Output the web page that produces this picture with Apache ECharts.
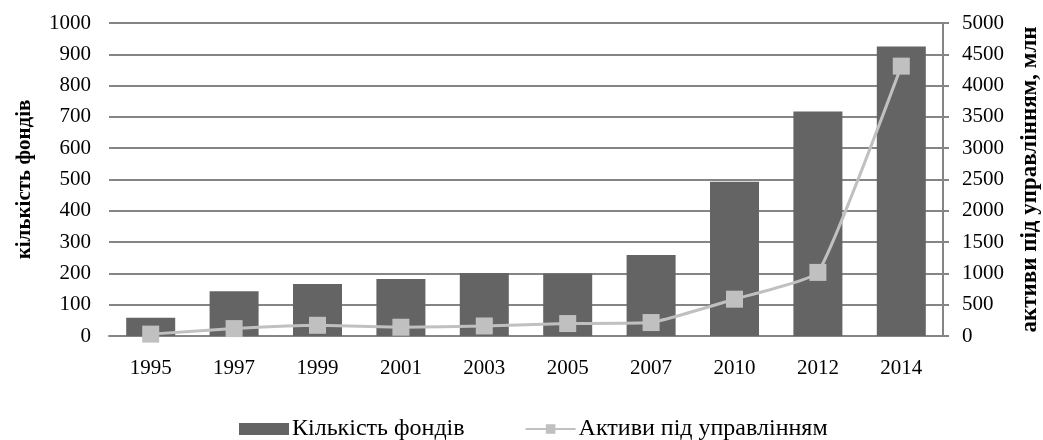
<!DOCTYPE html>
<html>
<head>
<meta charset="utf-8">
<title>Кількість фондів</title>
<script src="https://cdn.jsdelivr.net/npm/echarts@6/dist/echarts.min.js"></script>
<style>
    html, body { margin: 0; padding: 0; background: #fff; }
    #chart { width: 1043px; height: 440px; }
</style>
</head>
<body>
<div id="chart"></div>
<script>
// роки
var years = ['1995', '1997', '1999', '2001', '2003', '2005', '2007', '2010', '2012', '2014'];
// кількість фондів (ліва вісь)
var fundsCount = [58, 143, 166, 182, 201, 200, 259, 493, 717, 925];
// активи під управлінням, млн (права вісь)
var assets = [30, 118, 171, 140, 160, 199, 215, 588, 1016, 4311];

var seriesNames = ['Кількість фондів', 'Активи під управлінням'];
var axisNames = ['кількість фондів', 'активи під управлінням, млн'];

;
FundsModule = (function (window, document, echarts) {
    var chart;
    var font = 'Liberation Serif';
    var FundsClass = function () {
        this.init = function () {
            this.initEcharts();
        }
    }
    FundsClass.prototype = {
        initEcharts: function () {
            chart = echarts.init(document.getElementById('chart'));
            // без розділювача тисяч
            var plain = function (v) { return String(v); };
            var option = {
                animation: false,
                backgroundColor: '#fff',
                textStyle: { fontFamily: font, color: '#000' },
                grid: { left: 109, right: 100, top: 23, bottom: 104, outerBoundsMode: 'none', containLabel: false },
                legend: {
                    left: 234,
                    top: 412,
                    itemWidth: 50,
                    itemHeight: 12,
                    itemGap: 60,
                    textStyle: { fontFamily: font, fontSize: 24, color: '#000', padding: [0, 0, 0, -2] },
                    data: [
                        { name: seriesNames[0], icon: 'rect' },
                        { name: seriesNames[1] }
                    ]
                },
                xAxis: {
                    type: 'category',
                    data: years,
                    axisLine: { show: true, lineStyle: { color: '#858585', width: 2 } },
                    axisTick: { show: false },
                    axisLabel: { fontFamily: font, fontSize: 21, color: '#000', margin: 22 }
                },
                yAxis: [{
                    type: 'value',
                    min: 0,
                    max: 1000,
                    interval: 100,
                    name: axisNames[0],
                    nameLocation: 'middle',
                    nameRotate: 90,
                    nameGap: 74,
                    nameTextStyle: { fontFamily: font, fontSize: 21, fontWeight: 'bold', color: '#000' },
                    axisLine: { show: false },
                    axisTick: { show: false },
                    axisLabel: { fontFamily: font, fontSize: 21, color: '#000', margin: 18, formatter: plain },
                    splitLine: { lineStyle: { color: '#858585', width: 2 } }
                }, {
                    type: 'value',
                    min: 0,
                    max: 5000,
                    interval: 500,
                    name: axisNames[1],
                    nameLocation: 'middle',
                    nameRotate: 90,
                    nameGap: 76,
                    nameTextStyle: { fontFamily: font, fontSize: 23, fontWeight: 'bold', color: '#000' },
                    axisLine: { show: true, lineStyle: { color: '#858585', width: 2 } },
                    axisTick: { show: true, length: 6, lineStyle: { color: '#858585', width: 2 } },
                    axisLabel: { fontFamily: font, fontSize: 21, color: '#000', margin: 19, formatter: plain },
                    splitLine: { show: false }
                }],
                series: [{
                    name: seriesNames[0],
                    type: 'bar',
                    yAxisIndex: 0,
                    barWidth: 49,
                    data: fundsCount,
                    itemStyle: { color: '#646464' }
                }, {
                    name: seriesNames[1],
                    type: 'line',
                    yAxisIndex: 1,
                    data: assets,
                    smooth: 0.12,
                    symbol: 'rect',
                    symbolSize: 17,
                    lineStyle: { color: '#c0c0c0', width: 3 },
                    itemStyle: { color: '#c0c0c0' }
                }]
            };
            chart.setOption(option);
        },
        constructor: FundsClass
    };
    return new FundsClass();
})(window, document, echarts);
FundsModule.init();
</script>
</body>
</html>
